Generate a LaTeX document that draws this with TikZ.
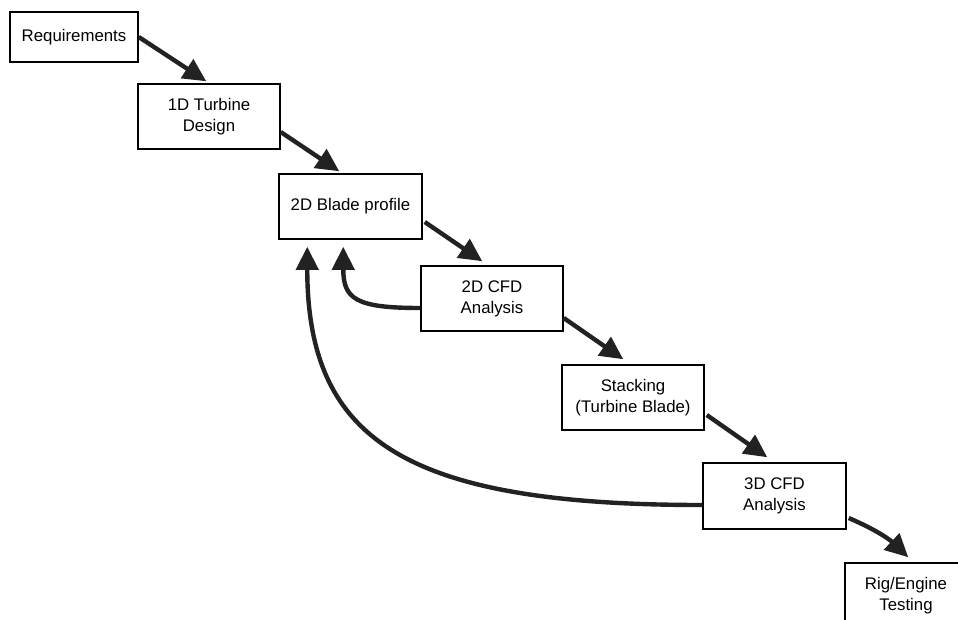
\documentclass[tikz,border=0pt]{standalone}
\usepackage{fontspec}
\setmainfont{Liberation Sans}
\usetikzlibrary{arrows.meta}
\definecolor{arrowgray}{HTML}{222222}
\tikzset{
  stepbox/.style={draw=black, line width=1.5pt, fill=white, minimum width=142pt, minimum height=65pt,
    inner sep=0pt, align=center, font=\fontsize{16.8}{21}\selectfont},
  flow/.style={draw=arrowgray, line width=4.4pt, -{Triangle[length=23pt,width=22pt]}}
}
\begin{document}
\begin{tikzpicture}[x=1pt,y=-1pt]
\useasboundingbox (0,0) rectangle (958,619);
\clip (0,0) rectangle (958,619);
\fill[white] (0,0) rectangle (958,619);

\node[stepbox, minimum width=128pt, minimum height=50pt] (req) at (74,37) {Requirements};
\node[stepbox] (d1) at (209,116.5) {1D Turbine\\Design};
\node[stepbox, minimum width=143pt] (b2) at (350.5,206.5) {2D Blade profile};
\node[stepbox] (cfd2) at (492,298.5) {2D CFD\\Analysis};
\node[stepbox] (stack) at (633,397.5) {Stacking\\(Turbine Blade)};
\node[stepbox, minimum width=143pt, minimum height=66pt] (cfd3) at (774.5,496) {3D CFD\\Analysis};
\node[stepbox, minimum width=122pt] (rig) at (906,595.5) {Rig/Engine\\Testing};

\draw[flow] (req.east) -- ([xshift=69pt,yshift=2pt]d1.north west);
\draw[flow] ([yshift=-15.5pt]d1.east) -- ([xshift=61pt,yshift=2pt]b2.north west);
\draw[flow] ([xshift=2pt,yshift=-15.5pt]b2.east) -- ([xshift=62pt,yshift=4pt]cfd2.north west);
\draw[flow] ([yshift=-19.5pt]cfd2.east) -- ([xshift=62pt,yshift=5pt]stack.north west);
\draw[flow] ([xshift=2pt,yshift=-17.5pt]stack.east) -- ([xshift=65pt,yshift=5pt]cfd3.north west);
\draw[flow] ([xshift=2pt,yshift=-22pt]cfd3.east) to[bend left=10] ([xshift=64pt,yshift=5pt]rig.north west);

\draw[flow] ([yshift=-9.5pt]cfd2.west) .. controls +(-65,0) and +(0,52) .. ([xshift=65pt,yshift=-7pt]b2.south west);
\draw[flow] ([yshift=-9pt]cfd3.west) .. controls +(-296,0) and +(0,194) .. ([xshift=29pt,yshift=-7pt]b2.south west);
\end{tikzpicture}
\end{document}
